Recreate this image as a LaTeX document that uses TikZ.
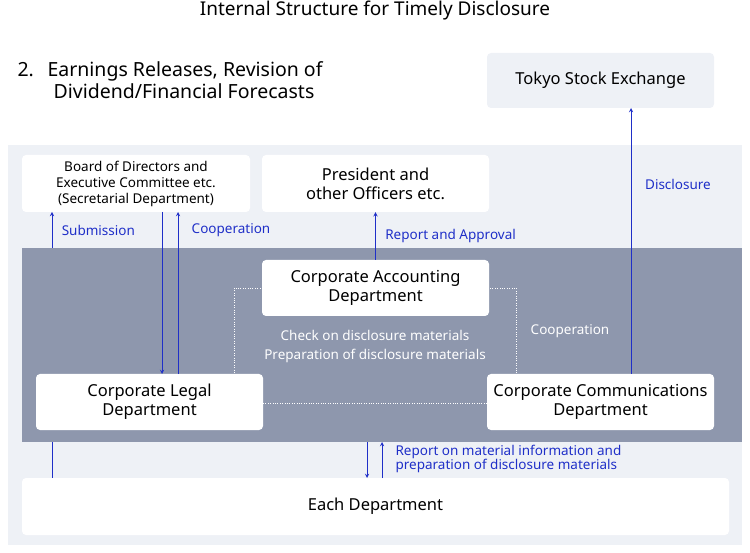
\documentclass[tikz,border=0pt]{standalone}
\usepackage{fontspec}
\setmainfont{Noto Sans}
\usetikzlibrary{positioning}
\definecolor{paleblue}{HTML}{EEF1F6}
\definecolor{slate}{HTML}{8E97AD}
\definecolor{linkblue}{HTML}{1F2FC8}
\tikzset{
  unitbox/.style={fill=white, rounded corners=4pt, align=center, font=\fontsize{16.5}{19}\selectfont},
  flow/.style={->, >=stealth, linkblue, line width=0.9pt},
  flowlabel/.style={text=linkblue, font=\fontsize{13.5}{15}\selectfont}
}
\begin{document}
\begin{tikzpicture}[x=1pt, y=-1pt]
        \useasboundingbox (0,0) rectangle (750,553);
        % Panels
        \fill[paleblue] (8,145) rectangle (742,545);
        \fill[slate] (22,248) rectangle (742,442);
        \draw[white, dotted] (234,288) rectangle (516,403);
        % Headings
        \node[font=\fontsize{19}{22}\selectfont] (title) at (375,11) {Internal Structure for Timely Disclosure};
        \node[anchor=north west, align=left, font=\fontsize{19.5}{22.5}\selectfont] (topic) at (14,58) {2.\hspace{0.7em}Earnings Releases, Revision of\\\hspace{1.85em}Dividend/Financial Forecasts};
        % Nodes
        \node[unitbox, fill=paleblue, minimum width=227pt, minimum height=55pt] (tse) at (600.5,80.5) {Tokyo Stock Exchange};
        \node[unitbox, minimum width=228pt, minimum height=57pt, font=\fontsize{13.5}{16}\selectfont] (board) at (136,183.5) {Board of Directors and\\Executive Committee etc.\\(Secretarial Department)};
        \node[unitbox, minimum width=227pt, minimum height=57pt] (president) at (375.5,183.5) {President and\\other Officers etc.};
        \node[unitbox, minimum width=227pt, minimum height=56pt] (accounting) at (375.5,288) {Corporate Accounting\\Department};
        \node[unitbox, minimum width=227pt, minimum height=56pt] (legal) at (149.5,402) {Corporate Legal\\Department};
        \node[unitbox, minimum width=227pt, minimum height=56pt] (comms) at (600.5,402) {Corporate Communications\\Department};
        \node[unitbox, minimum width=707pt, minimum height=57pt] (each) at (375.5,506.5) {Each Department};
        \node[text=white, align=center, font=\fontsize{13.5}{19}\selectfont] (check) at (375,346) {Check on disclosure materials\\Preparation of disclosure materials};
        \node[text=white, font=\fontsize{13.5}{15}\selectfont] (coop) at (570,331) {Cooperation};
        % Arrows
        \coordinate (subtop) at (52,212);
        \coordinate (subbot) at (52,248);
        \draw[flow] (subbot) -- (subtop) node[midway, right=6pt, flowlabel] {Submission};
        \draw[linkblue, line width=0.9pt] (52,442) -- (52,478);
        \draw[flow] (162,212) -- (162,374);
        \draw[flow] (178,374) -- (178,212);
        \node[flowlabel] (cooplabel) at (231,230) {Cooperation};
        \draw[flow] (accounting.north) -- (president.south) node[midway, right=6pt, flowlabel] {Report and Approval};
        \draw[flow] (631,374) -- (631,108);
        \node[flowlabel] (disc) at (678,184) {Disclosure};
        \draw[flow] (367,442) -- (367,478);
        \draw[flow] (382,478) -- (382,442);
        \node[flowlabel, anchor=west, align=left, font=\fontsize{13.5}{14.5}\selectfont] (report) at (392,459) {Report on material information and\\preparation of disclosure materials};
    \end{tikzpicture}
\end{document}
